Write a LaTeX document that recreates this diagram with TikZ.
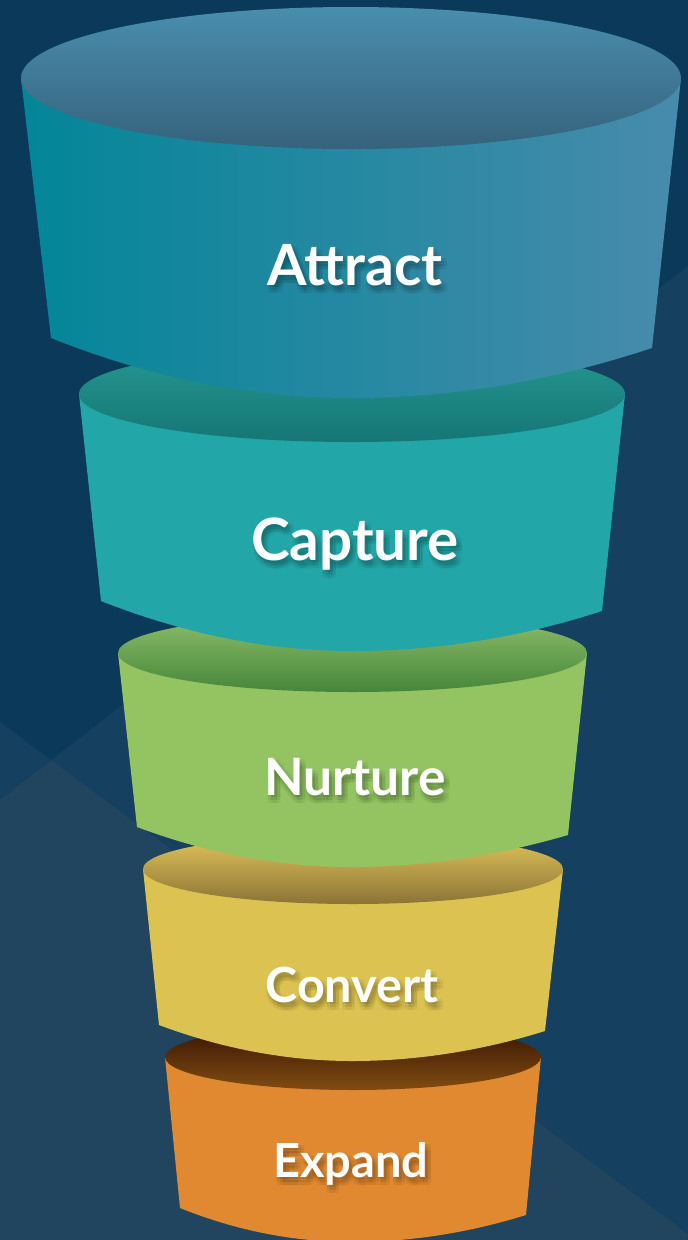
\documentclass[tikz,border=0pt]{standalone}
\usepackage{fontspec}
\setmainfont{Lato}
\usetikzlibrary{calc}
\definecolor{bgtop}{RGB}{10,57,89}
\definecolor{bgmid}{RGB}{22,64,96}
\definecolor{bglow}{RGB}{33,69,95}
\definecolor{attL}{RGB}{3,134,152}
\definecolor{attR}{RGB}{72,139,172}
\definecolor{attT}{RGB}{73,142,174}
\definecolor{attB}{RGB}{54,98,124}
\definecolor{capBody}{RGB}{35,166,167}
\definecolor{capT}{RGB}{37,152,146}
\definecolor{capB}{RGB}{22,118,116}
\definecolor{nurBody}{RGB}{147,196,97}
\definecolor{nurT}{RGB}{143,191,108}
\definecolor{nurB}{RGB}{70,134,58}
\definecolor{conBody}{RGB}{220,194,80}
\definecolor{conT}{RGB}{228,198,92}
\definecolor{conB}{RGB}{138,116,54}
\definecolor{expBody}{RGB}{224,137,48}
\definecolor{expT}{RGB}{52,18,0}
\definecolor{expB}{RGB}{128,76,18}
\tikzset{
  seglabel/.style={text=white, inner sep=0pt, anchor=base},
  shadowlabel/.style={text=black, opacity=0.045, inner sep=0pt, anchor=base},
}
\newcommand{\funnellabel}[5]{%
  \foreach \dx in {0,3,6} {\foreach \dy in {2,5,8} {
    \node[shadowlabel, font=\fontsize{#4}{#4}\selectfont\bfseries] (#1-s-\dx-\dy) at (#2+\dx,#3+\dy) {#5};
  }}
  \node[seglabel, font=\fontsize{#4}{#4}\selectfont\bfseries] (#1) at (#2,#3) {#5};
}
\begin{document}
\begin{tikzpicture}[x=1pt,y=-1pt]
\useasboundingbox (0,0) rectangle (688,1240);
% background
\fill[bgtop] (0,0) rectangle (688,1240);
\coordinate (X) at (51.3,760.2);
\fill[bgmid] (0,722) -- (X) -- (0,800) -- cycle;
\fill[bgmid] (X) -- (688,266) -- (688,1234) -- cycle;
\fill[bglow] (0,800) -- (X) -- (688,1234) -- (688,1240) -- (0,1240) -- cycle;

% Expand
\fill[expBody] (165,1057) -- (180,1208) .. controls (237,1231) and (295,1242) .. (352,1242)
  .. controls (410,1242) and (468,1233) .. (526,1215) -- (541,1057) -- cycle;
\shade[top color=expT, bottom color=expB] (353,1057) ellipse [x radius=188pt, y radius=33pt];

% Convert
\fill[conBody] (143,869) -- (159,1025) .. controls (223,1049) and (288,1061) .. (352,1061)
  .. controls (416,1061) and (481,1051) .. (545,1031) -- (563,869) -- cycle;
\shade[top color=conT, bottom color=conB] (353,869) ellipse [x radius=210pt, y radius=35pt];

% Nurture
\fill[nurBody] (118,653) -- (137,827) .. controls (209,854) and (280,867) .. (352,867)
  .. controls (424,867) and (496,856) .. (568,835) -- (587,653) -- cycle;
\shade[top color=nurT, bottom color=nurB] (352.5,653) ellipse [x radius=234.5pt, y radius=39pt];

% Capture
\fill[capBody] (79,394) -- (101,601) .. controls (185,634) and (268,651) .. (352,651)
  .. controls (435,651) and (519,638) .. (602,611) -- (625,394) -- cycle;
\shade[top color=capT, bottom color=capB] (352,394) ellipse [x radius=273pt, y radius=48pt];

% Attract
\shade[left color=attL, right color=attR] (21,78) -- (51,338) .. controls (151,378) and (252,398) .. (352,398)
  .. controls (452,398) and (552,381) .. (652,348) -- (681,78) -- cycle;
\shade[top color=attT, bottom color=attB] (351,78) ellipse [x radius=330pt, y radius=71pt];

% labels
\funnellabel{attract}{355}{285}{56.8}{Attract}
\funnellabel{capture}{355}{560}{58.4}{Capture}
\funnellabel{nurture}{355}{795}{51.5}{Nurture}
\funnellabel{convert}{352}{1002}{48.5}{Convert}
\funnellabel{expand}{351}{1177}{47}{Expand}
\end{tikzpicture}
\end{document}
